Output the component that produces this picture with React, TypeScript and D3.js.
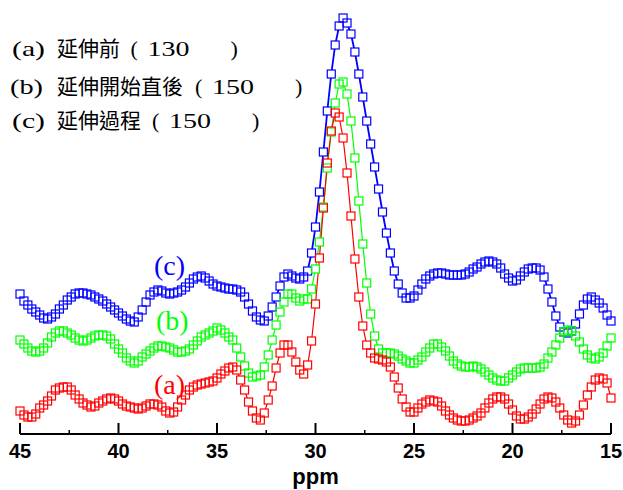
import React from "react";
import * as d3 from "d3";

// 13C NMR spectra, 45 -> 15 ppm, one point every 0.2 ppm (arbitrary intensity)
const ppmStart = 45;
const ppmStep = 0.2;

const spectrumA = [
  19, 15, 13, 13, 16, 22, 25, 29, 34, 40,
  42, 43, 43, 40, 35, 31, 27, 25, 23, 24,
  27, 29, 31, 32, 31, 29, 26, 24, 23, 22,
  21, 22, 24, 26, 26, 25, 23, 19, 17, 18,
  23, 30, 35, 40, 43, 45, 46, 47, 48, 49,
  52, 56, 59, 62, 63, 60, 50, 40, 28, 19,
  12, 10, 17, 30, 44, 62, 77, 85, 85, 78,
  68, 60, 56, 65, 89, 126, 172, 222, 267, 299,
  317, 313, 292, 257, 214, 171, 133, 104, 85, 77,
  72, 71, 70, 68, 63, 53, 42, 31, 23, 18,
  18, 22, 26, 28, 30, 29, 28, 24, 19, 15,
  12, 10, 9, 9, 10, 12, 14, 17, 22, 27,
  31, 33, 33, 31, 26, 20, 14, 11, 11, 13,
  16, 21, 26, 31, 33, 32, 28, 22, 15, 10,
  7, 9, 15, 25, 35, 43, 50, 52, 51, 47,
  32,
];

const spectrumB = [
  90, 86, 82, 79, 78, 79, 82, 87, 93, 97,
  99, 99, 97, 95, 92, 90, 89, 90, 92, 94,
  95, 95, 94, 91, 86, 81, 77, 72, 69, 67,
  69, 73, 76, 79, 82, 84, 84, 83, 82, 80,
  78, 78, 79, 81, 85, 89, 93, 95, 97, 99,
  102, 100, 97, 93, 90, 82, 73, 64, 57, 53,
  54, 55, 63, 75, 90, 105, 118, 128, 136, 136,
  132, 129, 131, 131, 141, 161, 188, 223, 262, 298,
  327, 346, 348, 336, 309, 272, 229, 186, 147, 116,
  94, 81, 77, 77, 77, 76, 74, 71, 69, 67,
  67, 70, 73, 78, 82, 86, 86, 83, 79, 74,
  69, 66, 64, 63, 63, 64, 63, 61, 58, 55,
  52, 50, 49, 49, 52, 55, 58, 61, 62, 62,
  62, 62, 63, 66, 72, 78, 85, 92, 98, 100,
  99, 94, 88, 81, 75, 72, 71, 73, 77, 84,
  92,
];

const spectrumC = [
  136, 129, 125, 121, 118, 115, 112, 111, 113, 116,
  121, 125, 130, 133, 136, 137, 137, 136, 135, 133,
  131, 129, 126, 123, 120, 117, 114, 111, 109, 108,
  113, 120, 128, 135, 138, 140, 139, 137, 136, 137,
  138, 140, 143, 147, 151, 153, 154, 152, 149, 146,
  144, 143, 142, 141, 141, 140, 138, 133, 126, 119,
  113, 110, 109, 114, 123, 133, 144, 153, 156, 154,
  152, 151, 153, 159, 177, 203, 238, 278, 319, 356,
  385, 404, 412, 407, 396, 378, 356, 333, 309, 286,
  263, 241, 218, 197, 177, 159, 146, 137, 132, 132,
  134, 140, 146, 151, 154, 156, 157, 157, 156, 155,
  155, 155, 155, 156, 158, 161, 163, 166, 168, 169,
  168, 166, 162, 156, 152, 149, 150, 154, 158, 161,
  162, 162, 160, 153, 141, 128, 114, 103, 98, 97,
  99, 106, 116, 125, 131, 133, 130, 127, 122, 115,
  109,
];

const majorTicks = [45, 40, 35, 30, 25, 20, 15];
const minorTicks = [42.5, 37.5, 32.5, 27.5, 22.5, 17.5];

const seriesLabels = ["(a)", "(b)", "(c)"];
const legendNames = ["延伸前", "延伸開始直後", "延伸過程"];
const legendTemps = ["130", "150", "150"];
const seriesColors = ["#ff0000", "#00ff00", "#0000ff"];

const W = 623;
const H = 490;

const serif = "'Liberation Serif', 'Times New Roman', serif";
const sans = "'Liberation Sans', Arial, sans-serif";
const cjk = "'Noto Sans CJK TC', 'Noto Sans CJK JP', sans-serif";

export default function App() {
  const x = d3.scaleLinear().domain([45, 15]).range([20, 611]);
  const y = d3.scaleLinear().domain([-4, 420]).range([434, 10]);
  const axisY = y(-4);

  const series = [spectrumA, spectrumB, spectrumC].map((vals, k) => ({
    color: seriesColors[k],
    width: k === 2 ? 1.8 : 1.2,
    pts: vals.map((v, i) => [ppmStart - i * ppmStep, v] as [number, number]),
  }));

  const line = d3
    .line<[number, number]>()
    .x((d) => x(d[0]))
    .y((d) => y(d[1]));

  const ms = 8; // marker size
  // draw order: blue, green, red
  const order = [2, 1, 0];

  // in-plot series labels: x in ppm, y in intensity units
  const labelPos = [
    { ppm: 38.2, v: 36 },
    { ppm: 38.1, v: 100 },
    { ppm: 38.2, v: 155 },
  ];

  return (
    <svg
      width={W}
      height={H}
      style={{ position: "absolute", left: 0, top: 0, background: "#fff" }}
    >
      {order.map((k) => (
        <path
          key={"l" + k}
          d={line(series[k].pts) || ""}
          fill="none"
          stroke={series[k].color}
          strokeWidth={series[k].width}
        />
      ))}
      {order.map((k) => (
        <g key={"f" + k}>
          {series[k].pts.map((d, i) => (
            <rect
              key={i}
              x={x(d[0]) - ms / 2}
              y={y(d[1]) - ms / 2}
              width={ms}
              height={ms}
              fill="#fff"
            />
          ))}
        </g>
      ))}
      {order.map((k) => (
        <g key={"m" + k}>
          {series[k].pts.map((d, i) => (
            <rect
              key={i}
              x={x(d[0]) - ms / 2}
              y={y(d[1]) - ms / 2}
              width={ms}
              height={ms}
              fill="none"
              stroke={series[k].color}
              strokeWidth={1.2}
            />
          ))}
        </g>
      ))}

      {/* bottom axis */}
      <line x1={x(45)} x2={x(15)} y1={axisY} y2={axisY} stroke="#000" strokeWidth={2} />
      {majorTicks.map((t) => (
        <g key={t}>
          <line x1={x(t)} x2={x(t)} y1={axisY} y2={axisY - 11} stroke="#000" strokeWidth={2} />
          <text
            x={x(t)}
            y={axisY + 24}
            textAnchor="middle"
            fontFamily={sans}
            fontWeight="bold"
            fontSize={20}
          >
            {t}
          </text>
        </g>
      ))}
      {minorTicks.map((t) => (
        <line key={t} x1={x(t)} x2={x(t)} y1={axisY} y2={axisY - 4} stroke="#000" strokeWidth={1.5} />
      ))}
      <text
        x={(x(45) + x(15)) / 2}
        y={484}
        textAnchor="middle"
        fontFamily={sans}
        fontWeight="bold"
        fontSize={22}
      >
        ppm
      </text>

      {/* labels next to curves */}
      {labelPos.map((p, k) => (
        <text
          key={k}
          x={x(p.ppm)}
          y={y(p.v)}
          fontFamily={serif}
          fontSize={28}
          fill={seriesColors[k]}
        >
          {seriesLabels[k]}
        </text>
      ))}

      {/* legend */}
      {seriesLabels.map((lab, k) => {
        const base = [56, 94, 128][k];
        const cjkX = 57;
        const parenX = cjkX + legendNames[k].length * 21.5 + 9;
        return (
          <g key={lab}>
            <text x={k === 1 ? 10 : 12} y={base} fontFamily={serif} fontSize={22} textLength={33} lengthAdjust="spacingAndGlyphs">
              {lab}
            </text>
            <text x={cjkX} y={base} fontFamily={cjk} fontSize={21}>
              {legendNames[k]}
            </text>
            <text x={parenX} y={base} fontFamily={serif} fontSize={22}>
              (
            </text>
            <text x={parenX + 17} y={base} fontFamily={serif} fontSize={22} textLength={42} lengthAdjust="spacingAndGlyphs">
              {legendTemps[k]}
            </text>
            <text x={parenX + 100} y={base} fontFamily={serif} fontSize={22}>
              )
            </text>
          </g>
        );
      })}
    </svg>
  );
}
